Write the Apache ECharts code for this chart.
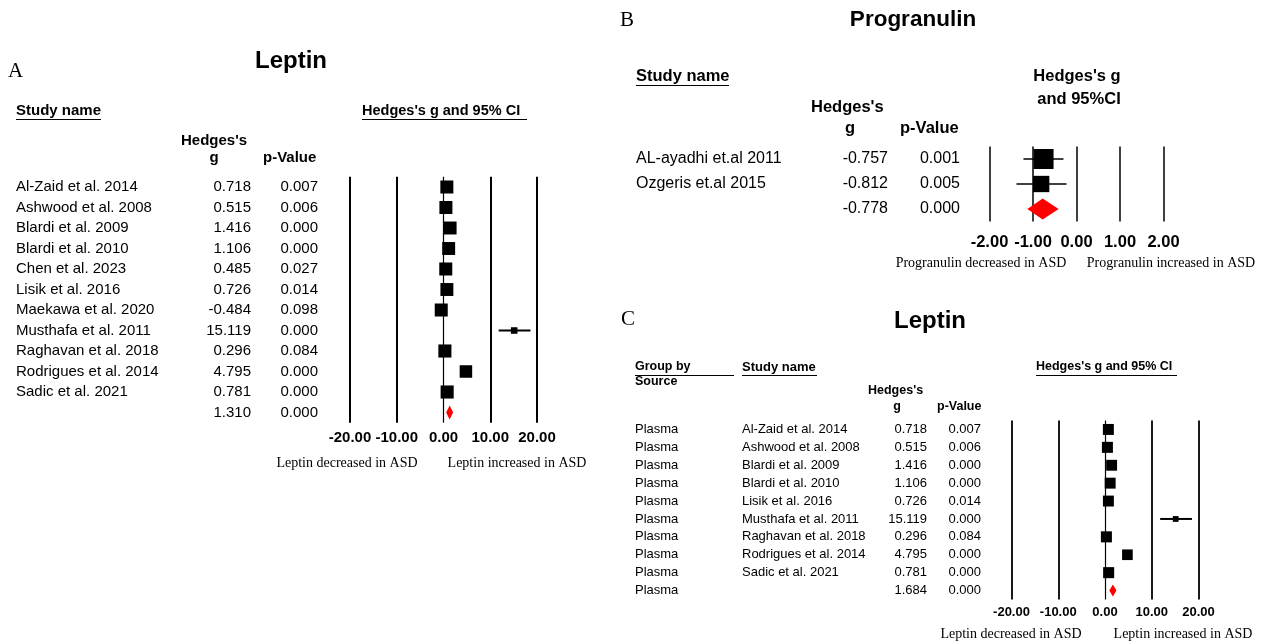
<!DOCTYPE html>
<html><head><meta charset="utf-8">
<script src="https://cdn.jsdelivr.net/npm/echarts@6/dist/echarts.min.js"></script>
<style>html,body{margin:0;padding:0;background:#fff}#c{width:1261px;height:643px}</style>
</head><body><div id="c"></div>
<script>
// ---------- Panel A: Leptin ----------
const aStudies = ['Al-Zaid et al. 2014','Ashwood et al. 2008','Blardi et al. 2009','Blardi et al. 2010','Chen et al. 2023','Lisik et al. 2016','Maekawa et al. 2020','Musthafa et al. 2011','Raghavan et al. 2018','Rodrigues et al. 2014','Sadic et al. 2021'];
const aG = [0.718, 0.515, 1.416, 1.106, 0.485, 0.726, -0.484, 15.119, 0.296, 4.795, 0.781];
const aP = ['0.007','0.006','0.000','0.000','0.027','0.014','0.098','0.000','0.084','0.000','0.000'];
const aLow = [0.20, 0.15, 0.80, 0.55, 0.06, 0.15, -1.06, 11.8, -0.04, 3.80, 0.42];
const aHigh = [1.24, 0.88, 2.03, 1.66, 0.91, 1.30, 0.09, 18.6, 0.63, 5.79, 1.14];
const aWeight = [9.5, 9.5, 9.4, 9.4, 9.5, 9.4, 9.5, 2.4, 9.6, 8.8, 9.6];
const aSumG = 1.310, aSumP = '0.000', aSumLow = 0.56, aSumHigh = 2.06;
const aTicks = [-20, -10, 0, 10, 20];

// ---------- Panel B: Progranulin ----------
const bStudies = ['AL-ayadhi et.al 2011','Ozgeris et.al 2015'];
const bG = [-0.757, -0.812];
const bP = ['0.001','0.005'];
const bLow = [-1.22, -1.38];
const bHigh = [-0.30, -0.23];
const bWeight = [60, 40];
const bSumG = -0.778, bSumP = '0.000', bSumLow = -1.13, bSumHigh = -0.41;
const bTicks = [-2, -1, 0, 1, 2];

// ---------- Panel C: Leptin by source ----------
const cSource = ['Plasma','Plasma','Plasma','Plasma','Plasma','Plasma','Plasma','Plasma','Plasma'];
const cSumSource = 'Plasma';
const cStudies = ['Al-Zaid et al. 2014','Ashwood et al. 2008','Blardi et al. 2009','Blardi et al. 2010','Lisik et al. 2016','Musthafa et al. 2011','Raghavan et al. 2018','Rodrigues et al. 2014','Sadic et al. 2021'];
const cG = [0.718, 0.515, 1.416, 1.106, 0.726, 15.119, 0.296, 4.795, 0.781];
const cP = ['0.007','0.006','0.000','0.000','0.014','0.000','0.084','0.000','0.000'];
const cLow = [0.20, 0.15, 0.80, 0.55, 0.15, 11.8, -0.04, 3.80, 0.42];
const cHigh = [1.24, 0.88, 2.03, 1.66, 1.30, 18.6, 0.63, 5.79, 1.14];
const cWeight = [11.5, 11.6, 11.3, 11.4, 11.4, 3.2, 11.6, 10.8, 11.6];
const cSumG = 1.684, cSumP = '0.000', cSumLow = 0.92, cSumHigh = 2.45;
const cTicks = [-20, -10, 0, 10, 20];

const SANS = 'Liberation Sans, Arial, Helvetica, sans-serif';
const SERIF = 'Liberation Serif, Times New Roman, serif';

function buildPanel(k, d, L) {
  const n = d.studies.length;
  const cats = d.studies.concat([' ']);
  const rich = {};
  if (d.source) rich.s = {width: L.ws, align: 'left', fontSize: L.fs, fontFamily: SANS, color: '#000'};
  rich.n = {width: L.wn, align: 'left', fontSize: L.fs, fontFamily: SANS, color: '#000'};
  rich.g = {width: L.wg, align: 'right', fontSize: L.fs, fontFamily: SANS, color: '#000'};
  rich.p = {width: L.wp, align: 'right', fontSize: L.fs, fontFamily: SANS, color: '#000'};
  const grid = {left: L.left, top: L.top, width: L.width, height: L.height, containLabel: false, outerBoundsMode: 'none'};
  const xAxis = {
    type: 'value', gridIndex: k, min: d.ticks[0], max: d.ticks[d.ticks.length - 1],
    interval: d.ticks[1] - d.ticks[0],
    axisLine: {show: false}, axisTick: {show: false}, splitLine: {show: false},
    axisLabel: {show: true, margin: L.tickMargin, color: '#000', fontWeight: 'bold', fontSize: L.tickFs, fontFamily: SANS,
      formatter: v => v.toFixed(2)}
  };
  const yAxis = {
    type: 'category', gridIndex: k, data: cats, inverse: true, boundaryGap: true,
    axisLine: {show: false}, axisTick: {show: false}, splitLine: {show: false},
    axisLabel: {
      show: true, interval: 0, align: 'left', margin: L.left - L.textLeft,
      formatter: (val, idx) => {
        const isSum = idx >= n;
        const s = d.source ? '{s|' + (isSum ? d.sumSource : d.source[idx]) + '}' : '';
        const g = isSum ? d.sumG : d.g[idx];
        const p = isSum ? d.sumP : d.p[idx];
        return s + '{n|' + (isSum ? ' ' : val) + '}{g|' + g.toFixed(3) + '}{p|' + p + '}';
      },
      rich: rich
    }
  };
  const series = [
    {
      type: 'custom', xAxisIndex: k, yAxisIndex: k, z: 2, silent: true,
      data: d.low.map((lo, i) => [lo, d.high[i], i]),
      encode: {x: [0, 1], y: 2},
      renderItem: (params, api) => {
        const a = api.coord([api.value(0), api.value(2)]);
        const b = api.coord([api.value(1), api.value(2)]);
        return {type: 'line', shape: {x1: a[0], y1: a[1], x2: b[0], y2: b[1]}, style: {stroke: '#000', lineWidth: L.ciWidth}};
      }
    },
    {
      type: 'scatter', xAxisIndex: k, yAxisIndex: k, z: 3, silent: true,
      symbol: 'rect',
      symbolSize: (val, params) => L.sizeK * Math.sqrt(d.weight[params.dataIndex]),
      itemStyle: {color: '#000', opacity: 1},
      data: d.g.map((v, i) => [v, i]),
      markLine: {
        silent: true, symbol: ['none', 'none'], label: {show: false}, animation: false,
        lineStyle: {color: '#000', type: 'solid'},
        emphasis: {disabled: true},
        data: d.ticks.map(v => ({xAxis: v, lineStyle: {color: '#000', type: 'solid', width: v === 0 ? L.zeroW : L.lineW}}))
      }
    },
    {
      type: 'custom', xAxisIndex: k, yAxisIndex: k, z: 10, silent: true,
      data: [[d.sumLow, d.sumG, d.sumHigh, n]],
      encode: {x: [0, 1, 2], y: 3},
      renderItem: (params, api) => {
        const l = api.coord([api.value(0), api.value(3)]);
        const c = api.coord([api.value(1), api.value(3)]);
        const r = api.coord([api.value(2), api.value(3)]);
        const h = L.diamondH / 2;
        return {type: 'polygon', shape: {points: [[l[0], l[1]], [c[0], c[1] - h], [r[0], r[1]], [c[0], c[1] + h]]}, style: {fill: '#ff0000', stroke: null}};
      }
    }
  ];
  return {grid, xAxis, yAxis, series};
}

const pA = buildPanel(0,
  {studies: aStudies, g: aG, p: aP, low: aLow, high: aHigh, weight: aWeight, sumG: aSumG, sumP: aSumP, sumLow: aSumLow, sumHigh: aSumHigh, ticks: aTicks},
  {left: 350, top: 176.75, width: 187, height: 246, textLeft: 16, wn: 175, wg: 60, wp: 67, fs: 15, tickFs: 15, tickMargin: 7.5,
   ciWidth: 2, sizeK: 4.22, lineW: 2, zeroW: 1.2, diamondH: 14});
const pB = buildPanel(1,
  {studies: bStudies, g: bG, p: bP, low: bLow, high: bHigh, weight: bWeight, sumG: bSumG, sumP: bSumP, sumLow: bSumLow, sumHigh: bSumHigh, ticks: bTicks},
  {left: 989.5, top: 146.5, width: 174, height: 75, textLeft: 636, wn: 190, wg: 62, wp: 72, fs: 16, tickFs: 16.5, tickMargin: 12.5,
   ciWidth: 1.5, sizeK: 2.58, lineW: 1.5, zeroW: 1.5, diamondH: 21});
const pC = buildPanel(2,
  {source: cSource, sumSource: cSumSource, studies: cStudies, g: cG, p: cP, low: cLow, high: cHigh, weight: cWeight, sumG: cSumG, sumP: cSumP, sumLow: cSumLow, sumHigh: cSumHigh, ticks: cTicks},
  {left: 1011.5, top: 420.5, width: 187, height: 179, textLeft: 635, ws: 107, wn: 135, wg: 50, wp: 54, fs: 13, tickFs: 13, tickMargin: 6.5,
   ciWidth: 2, sizeK: 3.24, lineW: 1.8, zeroW: 1.2, diamondH: 12});

function txt(x, y, text, font, align) {
  return {type: 'text', x: x, y: y, silent: true,
    style: {text: text, font: font, fill: '#000', align: align || 'left', verticalAlign: 'middle', textAlign: align || 'left', textVerticalAlign: 'middle'}};
}
function uline(x1, x2, y) {
  return {type: 'line', silent: true, shape: {x1: x1, y1: y, x2: x2, y2: y}, style: {stroke: '#000', lineWidth: 1}};
}
const B = (s) => 'bold ' + s + 'px ' + SANS;
const R = (s) => s + 'px ' + SERIF;

const graphics = [
  // Panel A
  txt(8, 71, 'A', R(21)),
  txt(291, 61, 'Leptin', B(24), 'center'),
  txt(16, 111, 'Study name', B(15)), uline(16, 101, 119.5),
  txt(362, 111, "Hedges's g and 95% CI", B(14.5)), uline(362, 527, 119.5),
  txt(214, 141, "Hedges's", B(15), 'center'),
  txt(214, 158, 'g', B(15), 'center'),
  txt(263, 158, 'p-Value', B(15)),
  txt(347, 463, 'Leptin decreased in ASD', R(14), 'center'),
  txt(517, 463, 'Leptin increased in ASD', R(14), 'center'),
  // Panel B
  txt(620, 20, 'B', R(21)),
  txt(913, 20, 'Progranulin', B(22.5), 'center'),
  txt(636, 76, 'Study name', B(16.5)), uline(636, 729, 85.5),
  txt(1077, 76, "Hedges's g", B(16.5), 'center'),
  txt(1079, 99, 'and 95%CI', B(16.5), 'center'),
  txt(811, 107, "Hedges's", B(16.5)),
  txt(850, 128, 'g', B(16.5), 'center'),
  txt(900, 128, 'p-Value', B(16.5)),
  txt(981, 263, 'Progranulin decreased in ASD', R(14), 'center'),
  txt(1171, 263, 'Progranulin increased in ASD', R(14), 'center'),
  // Panel C
  txt(621, 319, 'C', R(21)),
  txt(930, 321, 'Leptin', B(24), 'center'),
  txt(635, 367, 'Group by', B(12.5)),
  txt(635, 382, 'Source', B(12.5)), uline(635, 734, 375.5),
  txt(742, 367, 'Study name', B(13)), uline(742, 817, 375.5),
  txt(1036, 367, "Hedges's g and 95% CI", B(12.5)), uline(1036, 1177, 375.5),
  txt(868, 391, "Hedges's", B(12.5)),
  txt(897, 407, 'g', B(12.5), 'center'),
  txt(937, 407, 'p-Value', B(12.5)),
  txt(1011, 634, 'Leptin decreased in ASD', R(14), 'center'),
  txt(1183, 634, 'Leptin increased in ASD', R(14), 'center')
];

const chart = echarts.init(document.getElementById('c'), null, {renderer: 'canvas'});
chart.setOption({
  backgroundColor: '#fff',
  animation: false,
  textStyle: {fontFamily: SANS, color: '#000'},
  grid: [pA.grid, pB.grid, pC.grid],
  xAxis: [pA.xAxis, pB.xAxis, pC.xAxis],
  yAxis: [pA.yAxis, pB.yAxis, pC.yAxis],
  series: [].concat(pA.series, pB.series, pC.series),
  graphic: {elements: graphics}
});
</script>
</body></html>
